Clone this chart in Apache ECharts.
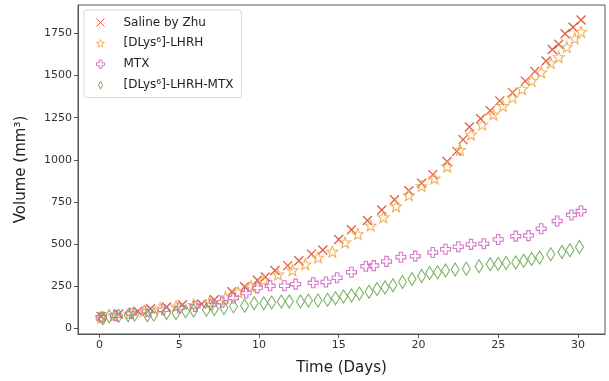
<!DOCTYPE html>
<html><head><meta charset="utf-8">
<script src="https://cdn.jsdelivr.net/npm/echarts@6/dist/echarts.min.js"></script>
<style>html,body{margin:0;padding:0;background:#fff}#c{width:609px;height:381px}</style>
</head><body><div id="c"></div>
<script>
const xTicks = [0, 5, 10, 15, 20, 25, 30];
const yTicks = [0, 250, 500, 750, 1000, 1250, 1500, 1750];
const seriesNames = ['Saline by Zhu', '[DLys\u2076]-LHRH', 'MTX', '[DLys\u2076]-LHRH-MTX'];

const salineDays = [0.1,1.2,2.4,3.2,4.2,5.2,6.4,7.2,8.3,9.1,9.9,10.4,11.0,11.8,12.5,13.3,14.0,15.0,15.8,16.8,17.7,18.5,19.4,20.2,20.9,21.8,22.4,22.8,23.2,23.9,24.5,25.1,25.9,26.7,27.3,28.0,28.4,28.8,29.2,29.7,30.2];
const salineVals = [70,85,101,116,126,140,144,169,217,246,285,304,343,372,401,440,465,527,585,640,702,763,816,861,912,990,1050,1120,1195,1244,1292,1350,1399,1467,1525,1587,1655,1686,1748,1787,1830];

const lhrhDays = [0.1,0.9,1.9,2.8,3.8,4.8,5.9,6.9,7.9,8.7,9.5,10.3,11.2,12.1,12.9,13.7,14.6,15.4,16.2,17.0,17.8,18.6,19.4,20.2,21.0,21.8,22.6,23.3,24.0,24.7,25.3,25.9,26.5,27.1,27.7,28.3,28.8,29.3,29.8,30.2];
const lhrhVals = [65,75,88,105,118,130,140,155,185,215,250,285,320,345,380,420,455,510,560,610,660,725,790,845,890,960,1060,1150,1210,1270,1320,1370,1420,1470,1520,1575,1610,1670,1720,1760];

const mtxDays = [0.1,1.0,2.0,3.0,4.0,5.0,6.0,7.0,7.7,8.4,9.2,9.9,10.7,11.6,12.3,13.4,14.2,14.9,15.8,16.7,17.2,18.0,18.9,19.8,20.9,21.7,22.5,23.3,24.1,25.0,26.1,26.9,27.7,28.7,29.6,30.2];
const mtxVals = [65,75,88,100,110,120,130,140,155,180,209,240,252,252,262,270,275,300,333,368,372,397,422,428,450,469,484,498,502,527,547,550,591,637,672,696];

const comboDays = [0.2,0.6,1.2,1.8,2.2,3.0,3.4,4.2,4.8,5.4,5.9,6.7,7.2,7.8,8.4,9.1,9.7,10.3,10.8,11.4,11.9,12.6,13.1,13.7,14.3,14.8,15.3,15.8,16.3,16.9,17.4,17.9,18.4,19.0,19.6,20.2,20.7,21.2,21.7,22.3,23.0,23.8,24.5,25.0,25.5,26.1,26.6,27.1,27.6,28.3,29.0,29.5,30.1];
const comboVals = [60,72,75,77,81,77,81,91,91,101,105,110,114,120,130,134,149,149,153,159,159,159,165,165,169,178,188,194,207,217,233,242,256,275,292,310,328,332,343,349,353,368,380,382,388,391,401,411,420,440,453,463,483];

function pairs(d, v){ return d.map((x,i)=>[x, v[i]]); }

function starPath(){
  let pts=[];
  for(let i=0;i<10;i++){
    const r = i%2===0 ? 10 : 4.2;
    const a = -Math.PI/2 + i*Math.PI/5;
    pts.push((10+r*Math.cos(a)).toFixed(2)+','+(10+r*Math.sin(a)).toFixed(2));
  }
  return 'path://M'+pts.join('L')+'Z';
}
const X_PATH = 'path://M0,0L10,10M10,0L0,10';
const PLUS_PATH = 'path://M3.3,0H6.7V3.3H10V6.7H6.7V10H3.3V6.7H0V3.3H3.3Z';
const DIAMOND_PATH = 'path://M5,0L10,10L5,20L0,10Z';

const colors = ['#dd4a2e', '#f0a848', '#d166c4', '#68a84e'];

const chart = echarts.init(document.getElementById('c'), null, {renderer:'canvas'});
const FONT = 'DejaVu Sans';
function mk(name, data, symbol, size, color, bw){
  return {
    name, type:'scatter', data, symbol, symbolSize:size,
    itemStyle:{color:'none', borderColor:color, borderWidth:bw, opacity:0.9},
    emphasis:{disabled:true}
  };
}
chart.setOption({
  animation:false,
  backgroundColor:'#fff',
  grid:{left:78, right:4, top:5, bottom:42, show:true, borderColor:'#555', borderWidth:1, backgroundColor:'transparent'},
  legend:{
    orient:'vertical', left:84, top:10,
    data:seriesNames,
    itemWidth:8, itemHeight:8, itemGap:8,
    padding:[6,8,6,10],
    borderColor:'#d8d8d8', borderWidth:1, borderRadius:3,
    backgroundColor:'rgba(255,255,255,0.8)',
    itemStyle:{borderWidth:1},
    textStyle:{fontFamily:FONT, fontSize:12, color:'#222', padding:[0,0,0,14]}
  },
  xAxis:{
    type:'value', min:-1.35, max:31.7,
    name:'Time (Days)', nameLocation:'middle', nameGap:27,
    nameTextStyle:{fontFamily:FONT, fontSize:15, color:'#222'},
    axisLine:{show:true, onZero:false, lineStyle:{color:'#555'}},
    axisTick:{show:true, customValues:xTicks, length:4, lineStyle:{color:'#555'}},
    axisLabel:{customValues:xTicks, formatter:v=>String(v), fontFamily:FONT, fontSize:11, color:'#333', margin:6},
    splitLine:{show:false}
  },
  yAxis:{
    type:'value', min:-34, max:1919,
    name:'Volume (mm\u00b3)', nameLocation:'middle', nameGap:49,
    nameTextStyle:{fontFamily:FONT, fontSize:15, color:'#222'},
    axisLine:{show:true, onZero:false, lineStyle:{color:'#555'}},
    axisTick:{show:true, customValues:yTicks, length:4, lineStyle:{color:'#555'}},
    axisLabel:{customValues:yTicks, formatter:v=>String(v), fontFamily:FONT, fontSize:11, color:'#333', margin:6},
    splitLine:{show:false}
  },
  series:[
    mk(seriesNames[0], pairs(salineDays, salineVals), X_PATH, 9, colors[0], 1.3),
    mk(seriesNames[1], pairs(lhrhDays, lhrhVals), starPath(), 11, colors[1], 1.1),
    mk(seriesNames[2], pairs(mtxDays, mtxVals), PLUS_PATH, 10, colors[2], 1.1),
    mk(seriesNames[3], pairs(comboDays, comboVals), DIAMOND_PATH, [8,13], colors[3], 1.1)
  ]
});
</script></body></html>
